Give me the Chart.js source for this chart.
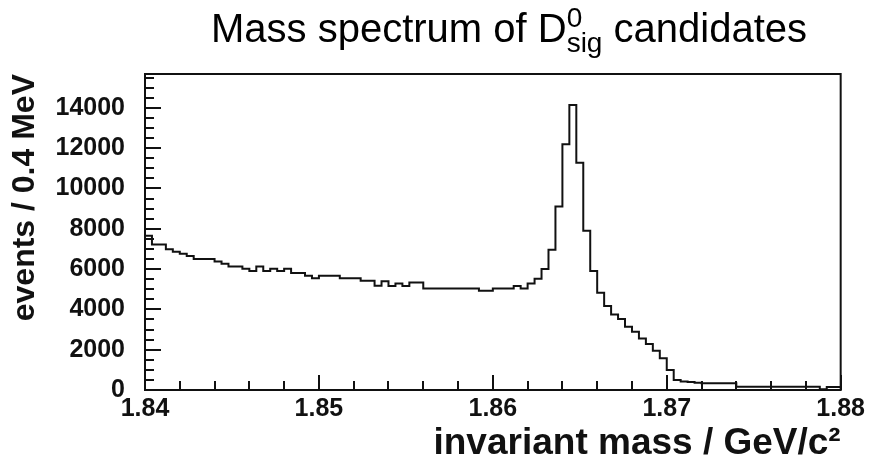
<!DOCTYPE html>
<html>
<head>
<meta charset="utf-8">
<script src="https://cdn.jsdelivr.net/npm/chart.js@4.4.1/dist/chart.umd.min.js"></script>
<style>
  html, body { margin: 0; padding: 0; background: #fff; }
  #wrap { width: 869px; height: 472px; }
</style>
</head>
<body>
<div id="wrap"><canvas id="grafico" width="869" height="472"></canvas></div>
<script>
// histogram range (GeV) and bin width (0.4 MeV)
const xInicio = 1.84;
const xFin = 1.88;
const anchoBin = 0.0004;

// events per bin (100 bins)
const cuentas = [
  7650, 7225, 7225, 6980, 6860, 6760, 6650, 6500, 6500, 6500,
  6380, 6270, 6130, 6130, 6020, 5900, 6130, 5900, 6020, 5900,
  6020, 5800, 5800, 5670, 5540, 5670, 5670, 5670, 5540, 5540,
  5540, 5420, 5420, 5175, 5400, 5160, 5290, 5160, 5340, 5340,
  5040, 5040, 5040, 5040, 5040, 5040, 5040, 5040, 4930, 4930,
  5040, 5040, 5040, 5160, 5040, 5290, 5520, 6010, 6960, 9110,
  12200, 14140, 11280, 7900, 5910, 4820, 4170, 3750, 3520, 3140,
  2890, 2560, 2280, 1950, 1570, 990, 500, 420, 400, 360,
  330, 330, 330, 330, 330, 160, 160, 160, 160, 160,
  160, 160, 160, 160, 160, 160, 160, 40, 150, 150
];

const yMax = 15680;
const yTicks = [0, 2000, 4000, 6000, 8000, 10000, 12000, 14000];
const xTicks = [1.84, 1.85, 1.86, 1.87, 1.88];
const pasoMenorY = 500;
const pasoMenorX = 0.002;

// left edge of each bin + closing point at the right edge
const puntos = cuentas.map((v, i) => ({ x: xInicio + i * anchoBin, y: v }));
puntos.push({ x: xFin, y: cuentas[cuentas.length - 1] });

const fuenteEje = "'Liberation Sans', Arial, sans-serif";

// ROOT-like frame with ticks pointing inside
const marcos = {
  id: 'marcos',
  afterDraw(chart) {
    const { ctx, chartArea: a, scales: { x, y } } = chart;
    ctx.save();
    ctx.strokeStyle = '#111';
    ctx.lineWidth = 2;
    ctx.strokeRect(a.left, a.top, a.right - a.left, a.bottom - a.top);
    ctx.beginPath();
    for (let v = 0; v <= yMax; v += pasoMenorY) {
      const py = Math.round(y.getPixelForValue(v));
      const largo = v % 2000 === 0 ? 16 : 9;
      ctx.moveTo(a.left, py);
      ctx.lineTo(a.left + largo, py);
    }
    const n = Math.round((xFin - xInicio) / pasoMenorX);
    for (let i = 0; i <= n; i++) {
      const px = Math.round(x.getPixelForValue(xInicio + i * pasoMenorX));
      const largo = i % 5 === 0 ? 15 : 9;
      ctx.moveTo(px, a.bottom);
      ctx.lineTo(px, a.bottom - largo);
    }
    ctx.stroke();
    ctx.restore();
  }
};

// title with superscript 0 and subscript "sig"
const titulo = {
  id: 'titulo',
  afterDraw(chart) {
    const ctx = chart.ctx;
    const grande = "40px 'Liberation Sans', Arial, sans-serif";
    const chica = "28px 'Liberation Sans', Arial, sans-serif";
    const antes = 'Mass spectrum of D';
    const despues = ' candidates';
    ctx.save();
    ctx.fillStyle = '#000';
    ctx.font = grande;
    const w1 = ctx.measureText(antes).width;
    const w3 = ctx.measureText(despues).width;
    ctx.font = chica;
    const w2 = Math.max(ctx.measureText('0').width, ctx.measureText('sig').width);
    let x = 509 - (w1 + w2 + w3) / 2;
    const base = 42;
    ctx.font = grande;
    ctx.fillText(antes, x, base);
    x += w1;
    ctx.font = chica;
    ctx.fillText('0', x, base - 15);
    ctx.fillText('sig', x, base + 10);
    x += w2;
    ctx.font = grande;
    ctx.fillText(despues, x, base);
    ctx.restore();
  }
};

const ctx = document.getElementById('grafico').getContext('2d');
new Chart(ctx, {
  type: 'line',
  data: {
    datasets: [{
      data: puntos,
      stepped: true,
      borderColor: '#111',
      borderWidth: 2,
      pointRadius: 0,
      fill: false
    }]
  },
  options: {
    responsive: false,
    animation: false,
    layout: { padding: { top: 74, right: 27, left: 0, bottom: 0 } },
    plugins: {
      legend: { display: false },
      tooltip: { enabled: false },
      title: { display: false }
    },
    scales: {
      x: {
        type: 'linear',
        min: xInicio,
        max: xFin,
        afterBuildTicks: s => { s.ticks = xTicks.map(v => ({ value: v })); },
        afterFit: s => { s.height = 82; },
        grid: { display: false, drawTicks: false },
        border: { display: false },
        ticks: {
          color: '#111',
          font: { family: fuenteEje, size: 25, weight: 'bold' },
          padding: 4,
          maxRotation: 0,
          autoSkip: false,
          callback: v => v.toFixed(2)
        },
        title: {
          display: true,
          text: 'invariant mass / GeV/c²',
          align: 'end',
          color: '#111',
          font: { family: fuenteEje, size: 37, weight: 'bold' },
          padding: { top: 0, bottom: 6 }
        }
      },
      y: {
        type: 'linear',
        min: 0,
        max: yMax,
        afterBuildTicks: s => { s.ticks = yTicks.map(v => ({ value: v })); },
        afterFit: s => { s.width = 145; },
        grid: { display: false, drawTicks: false },
        border: { display: false },
        ticks: {
          color: '#111',
          font: { family: fuenteEje, size: 25, weight: 'bold' },
          padding: 20,
          callback: v => String(v)
        },
        title: {
          display: true,
          text: 'events / 0.4 MeV',
          align: 'end',
          color: '#111',
          font: { family: fuenteEje, size: 32, weight: 'bold' },
          padding: { top: 6, bottom: 0 }
        }
      }
    }
  },
  plugins: [marcos, titulo]
});
</script>
</body>
</html>
